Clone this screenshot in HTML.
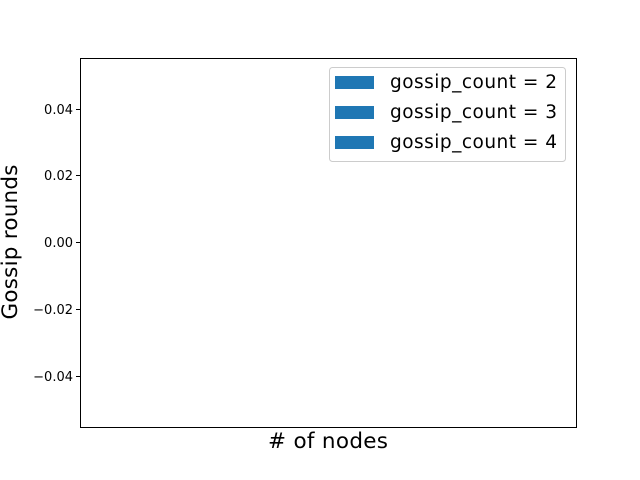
<!DOCTYPE html>
<html><head><style>body{margin:0;background:#fff}svg{display:block}text{font-family:"DejaVu Sans","Liberation Sans",sans-serif}</style></head>
<body>
<svg width="640" height="480" xmlns="http://www.w3.org/2000/svg">
<rect width="640" height="480" fill="#fff"/>
<rect x="80.5" y="58.5" width="496" height="369" fill="none" stroke="#000" stroke-width="1"/>
<g stroke="#000" stroke-width="1">
<line x1="76" y1="109.5" x2="80" y2="109.5"/>
<line x1="76" y1="175.5" x2="80" y2="175.5"/>
<line x1="76" y1="242.5" x2="80" y2="242.5"/>
<line x1="76" y1="309.5" x2="80" y2="309.5"/>
<line x1="76" y1="376.5" x2="80" y2="376.5"/>
</g>
<g font-size="13" text-anchor="end" fill="#000">
<text x="73" y="114">0.04</text>
<text x="73" y="180">0.02</text>
<text x="73" y="247">0.00</text>
<text x="73" y="314">−0.02</text>
<text x="73" y="381">−0.04</text>
</g>
<text x="328" y="448" font-size="21.5" text-anchor="middle" textLength="120">#  of nodes</text>
<text transform="translate(17,242) rotate(-90)" font-size="21.5" text-anchor="middle" textLength="155">Gossip rounds</text>
<rect x="329.5" y="67.5" width="236" height="94" rx="3" fill="#fff" fill-opacity="0.8" stroke="#ccc"/>
<rect x="335" y="76" width="39" height="13" fill="#1f77b4"/>
<rect x="335" y="106" width="39" height="13" fill="#1f77b4"/>
<rect x="335" y="136" width="39" height="13" fill="#1f77b4"/>
<g font-size="18.5" fill="#000">
<text x="390" y="88" textLength="167">gossip_count = 2</text>
<text x="390" y="118" textLength="167">gossip_count = 3</text>
<text x="390" y="148" textLength="167">gossip_count = 4</text>
</g>
</svg>
</body></html>
